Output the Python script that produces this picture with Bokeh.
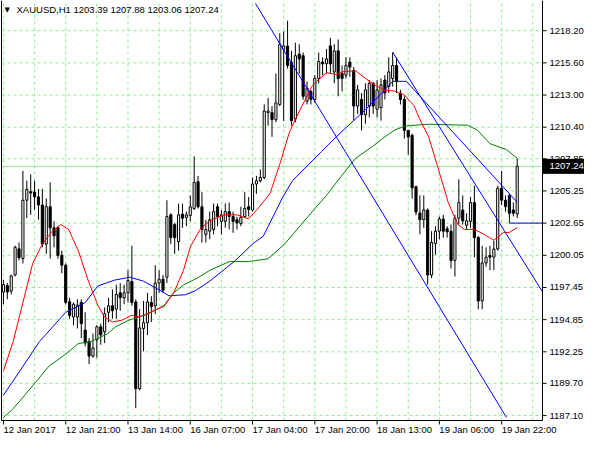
from bokeh.plotting import figure
from bokeh.models import Range1d, ColumnDataSource
from bokeh.core.properties import value
from bokeh.embed import file_html
from bokeh.resources import INLINE

symbol = "XAUUSD,H1"

opens = [1197.08, 1197.60, 1197.15, 1198.47, 1200.57, 1199.78, 1204.50, 1205.21, 1205.16, 1204.77,
         1204.11, 1200.96, 1203.98, 1202.27, 1202.27, 1200.04, 1199.25, 1196.29, 1195.06, 1195.06,
         1196.24, 1194.01, 1193.09, 1191.91, 1193.22, 1194.27, 1193.87, 1195.44, 1195.97, 1195.70,
         1197.02, 1196.62, 1197.02, 1197.93, 1196.28, 1189.27, 1194.13, 1194.60, 1196.23, 1195.97,
         1197.80, 1198.12, 1198.28, 1203.32, 1202.53, 1201.16, 1203.37, 1203.11, 1203.26, 1203.84,
         1206.00, 1203.97, 1201.74, 1202.00, 1202.14, 1203.97, 1202.79, 1202.79, 1203.58, 1203.18,
         1202.92, 1202.61, 1203.18, 1203.97, 1203.71, 1205.81, 1206.07, 1206.33, 1211.58, 1211.58,
         1211.01, 1212.24, 1216.70, 1216.96, 1215.65, 1211.06, 1216.31, 1216.18, 1212.50, 1213.29,
         1212.64, 1214.34, 1215.66, 1215.52, 1216.97, 1214.87, 1216.57, 1214.74, 1214.61, 1215.66,
         1215.00, 1212.11, 1212.64, 1211.40, 1212.11, 1213.95, 1211.85, 1211.98, 1214.21, 1213.69,
         1214.34, 1215.39, 1213.16, 1212.64, 1210.14, 1209.75, 1205.60, 1203.47, 1202.92, 1203.71,
         1198.46, 1201.00, 1202.00, 1202.98, 1202.19, 1202.00, 1199.64, 1203.05, 1203.71, 1202.48,
         1202.79, 1204.31, 1201.48, 1196.36, 1199.43, 1200.04, 1199.90, 1200.56, 1205.47, 1204.50,
         1204.89, 1203.71, 1203.39]
highs = [1198.07, 1197.81, 1198.47, 1200.83, 1201.09, 1206.87, 1206.08, 1206.60, 1206.08, 1205.42,
         1205.42, 1204.64, 1205.95, 1202.80, 1202.40, 1200.44, 1199.39, 1196.63, 1196.24, 1196.50,
         1196.50, 1195.45, 1193.35, 1193.74, 1194.40, 1194.53, 1195.84, 1196.62, 1197.28, 1197.67,
         1197.80, 1197.67, 1198.85, 1200.82, 1196.49, 1195.70, 1196.36, 1197.02, 1196.75, 1199.25,
         1198.85, 1198.46, 1204.50, 1203.45, 1202.66, 1204.23, 1204.23, 1203.58, 1204.89, 1208.04,
         1206.47, 1205.15, 1202.92, 1203.58, 1204.23, 1204.23, 1203.71, 1204.23, 1204.29, 1203.58,
         1203.18, 1203.97, 1205.15, 1204.76, 1206.33, 1206.47, 1206.99, 1212.24, 1212.76, 1212.11,
         1214.73, 1218.01, 1218.15, 1219.00, 1216.57, 1217.23, 1217.10, 1216.44, 1214.08, 1213.42,
         1214.61, 1216.44, 1216.05, 1216.71, 1217.62, 1217.10, 1217.49, 1215.39, 1216.05, 1216.05,
         1215.26, 1213.82, 1213.16, 1213.95, 1214.21, 1214.08, 1214.21, 1214.34, 1214.61, 1216.05,
         1216.44, 1216.05, 1213.42, 1212.90, 1210.14, 1209.88, 1205.68, 1204.90, 1204.89, 1203.84,
         1202.00, 1202.40, 1203.19, 1203.32, 1202.40, 1202.53, 1203.32, 1206.20, 1204.89, 1203.45,
         1204.76, 1205.68, 1201.61, 1200.82, 1200.69, 1200.82, 1201.22, 1205.68, 1206.86, 1204.89,
         1205.02, 1204.31, 1207.88]
lows = [1196.10, 1196.50, 1196.89, 1198.34, 1199.65, 1199.39, 1203.06, 1203.32, 1203.72, 1202.93,
        1200.70, 1200.17, 1199.78, 1200.70, 1199.78, 1198.60, 1196.10, 1194.92, 1194.40, 1194.14,
        1193.35, 1192.69, 1191.25, 1191.77, 1191.77, 1192.82, 1192.96, 1194.65, 1194.92, 1194.92,
        1195.57, 1196.10, 1196.23, 1195.97, 1187.70, 1189.14, 1192.29, 1193.60, 1194.65, 1195.31,
        1197.02, 1197.02, 1197.80, 1200.95, 1200.17, 1200.43, 1202.27, 1202.40, 1202.79, 1203.71,
        1203.84, 1201.08, 1201.08, 1201.35, 1201.74, 1202.40, 1201.74, 1202.27, 1202.14, 1201.87,
        1202.14, 1202.40, 1203.05, 1203.18, 1203.58, 1205.02, 1205.94, 1206.20, 1210.53, 1209.62,
        1210.80, 1212.11, 1210.90, 1215.13, 1210.53, 1210.80, 1214.73, 1212.63, 1212.24, 1212.24,
        1212.37, 1213.95, 1214.61, 1214.74, 1214.74, 1213.95, 1212.90, 1213.29, 1214.34, 1214.47,
        1210.93, 1211.46, 1210.14, 1210.67, 1211.19, 1211.46, 1211.19, 1210.93, 1212.64, 1213.16,
        1213.69, 1213.16, 1212.24, 1209.49, 1208.18, 1204.63, 1203.30, 1201.75, 1202.27, 1197.67,
        1198.20, 1200.10, 1201.35, 1201.48, 1201.48, 1198.99, 1198.33, 1202.53, 1202.53, 1202.14,
        1202.27, 1199.90, 1195.70, 1195.70, 1199.12, 1198.85, 1198.85, 1200.43, 1204.10, 1203.58,
        1203.05, 1203.19, 1203.06]
closes = [1197.68, 1197.08, 1198.39, 1200.70, 1199.86, 1204.50, 1205.37, 1205.08, 1204.77, 1204.11,
          1200.96, 1203.98, 1202.27, 1201.62, 1200.04, 1199.25, 1196.24, 1195.19, 1196.10, 1196.03,
          1194.53, 1192.96, 1191.91, 1192.56, 1194.27, 1193.61, 1195.32, 1195.97, 1195.57, 1196.89,
          1196.62, 1197.02, 1198.01, 1196.23, 1189.27, 1194.18, 1194.60, 1196.28, 1195.91, 1197.80,
          1198.12, 1197.23, 1203.18, 1201.48, 1201.48, 1203.32, 1203.05, 1203.32, 1203.97, 1205.94,
          1203.97, 1202.13, 1202.13, 1202.92, 1203.58, 1203.18, 1203.32, 1203.58, 1203.18, 1202.79,
          1202.66, 1203.13, 1203.84, 1203.76, 1205.81, 1206.07, 1206.33, 1211.71, 1211.71, 1211.01,
          1212.37, 1217.10, 1216.96, 1215.39, 1210.93, 1216.18, 1215.91, 1212.90, 1213.55, 1212.64,
          1214.34, 1215.71, 1215.52, 1215.92, 1215.52, 1216.57, 1214.34, 1214.34, 1215.39, 1215.26,
          1212.11, 1213.42, 1211.40, 1213.42, 1213.95, 1212.11, 1213.42, 1213.82, 1213.16, 1214.87,
          1215.39, 1214.08, 1212.64, 1210.14, 1209.62, 1205.50, 1203.55, 1202.92, 1203.71, 1198.46,
          1201.09, 1202.00, 1202.98, 1202.00, 1201.95, 1199.64, 1203.05, 1204.31, 1202.84, 1202.84,
          1204.31, 1201.48, 1196.36, 1199.43, 1199.90, 1199.90, 1200.56, 1205.47, 1204.50, 1203.97,
          1203.45, 1203.45, 1207.24]

# fast moving average (red)
ma_red_x = [0, 2.5, 5, 7.5, 10, 12.5, 14.75, 16.75, 19.25, 21.75, 24.25, 26, 28, 30.5, 33, 34.25,
            36.25, 38.75, 41.25, 43.75, 46.25, 48, 50.5, 53, 56.75, 60, 63, 65.5, 68.5, 71, 73.5, 75,
            77.5, 79.25, 80.5, 83, 85.5, 87.25, 90.5, 93, 95.5, 98, 100.5, 103, 105.5, 106.75, 109.25,
            111.75, 114.25, 116.75, 118.5, 121, 123.5, 126, 128.5, 130, 132]
ma_red_y = [1190.72, 1193.08, 1196.23, 1199.38, 1200.96, 1201.98, 1202.53, 1202.14, 1200.40, 1198.04,
            1196.00, 1195.05, 1194.66, 1194.81, 1195.21, 1195.05, 1195.21, 1195.60, 1195.92, 1197.02,
            1198.83, 1200.72, 1202.14, 1202.85, 1203.32, 1203.32, 1203.00, 1203.87, 1205.05, 1207.41,
            1210.01, 1211.03, 1212.61, 1213.71, 1214.11, 1214.81, 1214.66, 1214.89, 1214.97, 1214.34,
            1213.79, 1213.40, 1213.32, 1213.00, 1212.14, 1211.19, 1209.62, 1207.02, 1204.34, 1202.53,
            1202.14, 1202.14, 1201.74, 1201.27, 1201.90, 1201.90, 1202.29]
# slow moving average (green)
ma_green_x = [0, 2.25, 5.5, 11.75, 16, 19.25, 22.5, 26.75, 28.75, 32.25, 34.75, 38, 41.25, 43.75,
              46.25, 49.75, 53, 58, 63, 68, 72.25, 79.25, 83, 87.25, 90.5, 94.75, 98, 100.5, 103,
              105.5, 109.25, 119.25, 121.75, 125, 129.25, 132]
ma_green_y = [1186.94, 1187.57, 1188.75, 1191.11, 1192.06, 1192.92, 1193.08, 1193.71, 1194.26, 1194.81,
              1195.05, 1195.44, 1196.00, 1197.02, 1197.65, 1198.20, 1198.83, 1199.54, 1199.54, 1199.77,
              1200.96, 1203.55, 1204.89, 1206.63, 1207.89, 1208.83, 1209.62, 1210.17, 1210.48, 1210.56,
              1210.64, 1210.56, 1210.17, 1209.07, 1208.59, 1207.89]
# medium moving average (blue)
ma_blue_x = [0, 4.25, 9.25, 16, 21, 24.25, 28.5, 32.5, 36, 40, 42.5, 46.75, 49.25, 53, 59.25, 64.25,
             66.75, 71.75, 74.25, 78, 81.75, 85.5, 89.25, 93, 96.75, 100, 103.5, 132]
ma_blue_y = [1188.75, 1190.72, 1193.08, 1195.44, 1196.23, 1197.57, 1198.04, 1198.28, 1197.96, 1197.26,
             1196.78, 1196.86, 1197.18, 1197.96, 1199.54, 1201.03, 1201.59, 1204.74, 1206.07, 1207.26,
             1208.44, 1209.62, 1210.72, 1211.82, 1213.00, 1214.11, 1214.11, 1204.34]
# drawn objects (blue)
channel_a_x = [64.75, 129.25]
channel_a_y = [1220.40, 1186.94]
channel_b_x = [100, 138.5]
channel_b_y = [1216.47, 1197.10]
level_x = [130, 130, 138.5]
level_y = [1204.90, 1202.65, 1202.65]

x_tick_bars = [0, 16, 32, 48, 64, 80, 96, 112, 128]
x_tick_labels = ["12 Jan 2017", "12 Jan 21:00", "13 Jan 14:00", "16 Jan 07:00", "17 Jan 04:00",
                 "17 Jan 20:00", "18 Jan 13:00", "19 Jan 06:00", "19 Jan 22:00"]
x_grid_bars = list(range(0, 139, 8))
y_ticks = [1187.10, 1189.70, 1192.25, 1194.85, 1197.45, 1200.05, 1202.65, 1205.25, 1207.85,
           1210.40, 1213.00, 1215.60, 1218.20]

# ---- layout (screen geometry) ----
FONT = "Liberation Sans"
FS = "9.5px"
GRID = "#90ee90"
CANVAS_W, CANVAS_H = 584, 434
CHART_L, CHART_W, CHART_H = 1, 541, 420      # chart frame inside the canvas (px)
X0, XC = -0.5, 138.5                          # chart frame in bars
YC, Y1 = 1186.70, 1220.64                     # chart frame in price
BX = (XC - X0) / CHART_W                      # bars per pixel
PY = (Y1 - YC) / CHART_H                      # price per pixel
XS = X0 - CHART_L * BX
XE = XS + CANVAS_W * BX
YB = Y1 - CANVAS_H * PY

bars = list(range(len(closes)))
src = ColumnDataSource(dict(
    x=bars,
    top=[max(o, c) for o, c in zip(opens, closes)],
    bottom=[min(o, c) for o, c in zip(opens, closes)],
    high=highs, low=lows,
    fill=["white" if c >= o else "black" for o, c in zip(opens, closes)],
))

p = figure(width=CANVAS_W, height=CANVAS_H, x_range=Range1d(XS, XE), y_range=Range1d(YB, Y1),
           output_backend="svg", toolbar_location=None,
           x_axis_location=None, y_axis_location=None, min_border=0,
           background_fill_color="white", border_fill_color="white")
p.outline_line_color = None
p.xgrid.visible = False
p.ygrid.visible = False

# grid
p.segment(x0=x_grid_bars, y0=[YC] * len(x_grid_bars), x1=x_grid_bars, y1=[Y1] * len(x_grid_bars),
          line_color=GRID, line_dash="3 3", line_width=1)
p.segment(x0=[X0] * len(y_ticks), y0=y_ticks, x1=[XC] * len(y_ticks), y1=y_ticks,
          line_color=GRID, line_dash="3 3", line_width=1)
# bid line
p.segment(x0=[X0], y0=[closes[-1]], x1=[XC], y1=[closes[-1]], line_color=GRID, line_width=1)

# candles
p.segment(x0="x", y0="low", x1="x", y1="high", source=src, line_color="black", line_width=1)
p.vbar(x="x", top="top", bottom="bottom", width=0.55, source=src,
       fill_color="fill", line_color="black", line_width=1)

# indicators and objects
p.line(ma_green_x, ma_green_y, line_color="#008000", line_width=1)
p.line(ma_blue_x, ma_blue_y, line_color="#0000ff", line_width=1)
p.line(ma_red_x, ma_red_y, line_color="#ff0000", line_width=1)
p.line(channel_a_x, channel_a_y, line_color="#0000ff", line_width=1)
p.line(channel_b_x, channel_b_y, line_color="#0000ff", line_width=1)
p.line(level_x, level_y, line_color="#0000cc", line_width=1)

# chart frame
p.line([X0, X0, XC, XC], [Y1, YC, YC, Y1], line_color="black", line_width=1)

# price axis (right)
p.segment(x0=[XC] * len(y_ticks), y0=y_ticks, x1=[XC + 4 * BX] * len(y_ticks), y1=y_ticks,
          line_color="black", line_width=1)
p.text(x=[XC + 7 * BX] * len(y_ticks), y=y_ticks, text=[f"{t:.2f}" for t in y_ticks],
       text_align="left", text_baseline="middle", text_font=value(FONT), text_font_size=FS,
       text_color="black")

# time axis (below)
p.segment(x0=x_tick_bars, y0=[YC] * len(x_tick_bars), x1=x_tick_bars,
          y1=[YC - 4 * PY] * len(x_tick_bars), line_color="black", line_width=1)
p.text(x=x_tick_bars, y=[YC - 3 * PY] * len(x_tick_bars), text=x_tick_labels,
       text_align="left", text_baseline="top", text_font=value(FONT), text_font_size=FS,
       text_color="black")

# current price box
p.quad(left=[XC], right=[XE], bottom=[closes[-1] - 7 * PY], top=[closes[-1] + 7 * PY],
       fill_color="black", line_color="black")
p.text(x=[XC + 7 * BX], y=[closes[-1]], text=[f"{closes[-1]:.2f}"], text_align="left",
       text_baseline="middle", text_font=value(FONT), text_font_size=FS, text_color="white")

# header
header = f"{symbol}  {opens[-1]:.2f} {highs[-1]:.2f} {lows[-1]:.2f} {closes[-1]:.2f}"
p.text(x=[X0 + 3 * BX], y=[Y1 - 5 * PY], text=["\u25bc"], text_align="left", text_baseline="top",
       text_font=value("DejaVu Sans"), text_font_size="7px", text_color="black")
p.text(x=[X0 + 15 * BX], y=[Y1 - 3 * PY], text=[header], text_align="left", text_baseline="top",
       text_font=value(FONT), text_font_size=FS, text_color="black")

open("out.html", "w").write(file_html(p, INLINE))
